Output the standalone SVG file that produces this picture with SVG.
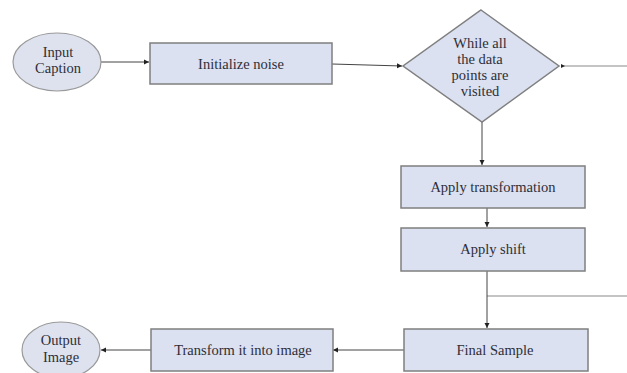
<svg xmlns="http://www.w3.org/2000/svg" width="627" height="373" viewBox="0 0 627 373">
<style>
.box{fill:#dbe1f1;stroke:#7f7f7f;stroke-width:1.5}
.ell{fill:#dde2ee;stroke:#9a9a9a;stroke-width:1.2}
.t{font-family:"Liberation Serif",serif;font-size:14.5px;fill:#2e2e38;text-anchor:middle}
.c{fill:none;stroke:#444;stroke-width:1}
.g{fill:none;stroke:#c4c4c4;stroke-width:2}
</style>
<defs>
<marker id="ah" markerWidth="6" markerHeight="6" refX="5" refY="3" orient="auto" markerUnits="userSpaceOnUse">
<path d="M0,0.5 L5,3 L0,5.5 Z" fill="#222"/>
</marker>
</defs>
<g id="connectors">
<line class="g" x1="563" y1="66" x2="627" y2="66"/>
<line class="g" x1="487" y1="296" x2="627" y2="296"/>
<line class="c" x1="101" y1="62" x2="149" y2="62" marker-end="url(#ah)"/>
<line class="c" x1="332" y1="64" x2="402" y2="66" marker-end="url(#ah)"/>
<path d="M565,66 L561,64 L561,68 Z" fill="#222"/>
<line class="c" x1="482" y1="122" x2="482" y2="165" marker-end="url(#ah)"/>
<line class="c" x1="487" y1="208" x2="487" y2="227" marker-end="url(#ah)"/>
<line class="c" x1="487" y1="271" x2="487" y2="328" marker-end="url(#ah)"/>
<line class="c" x1="404" y1="350" x2="333" y2="350" marker-end="url(#ah)"/>
<line class="c" x1="151" y1="350" x2="101" y2="350" marker-end="url(#ah)"/>
</g>
<g id="input-caption">
<ellipse class="ell" cx="57" cy="62" rx="44" ry="29"/>
<text class="t" x="58" y="57">Input</text>
<text class="t" x="58" y="73">Caption</text>
</g>
<g id="initialize-noise">
<rect class="box" x="150" y="43" width="182" height="41"/>
<text class="t" x="241" y="69">Initialize noise</text>
</g>
<g id="while-loop">
<polygon class="box" points="481,10 559,66 482,122 403,66"/>
<text class="t" x="480" y="48">While all</text>
<text class="t" x="480" y="64">the data</text>
<text class="t" x="480" y="80">points are</text>
<text class="t" x="480" y="96">visited</text>
</g>
<g id="apply-transformation">
<rect class="box" x="401" y="166" width="184" height="42"/>
<text class="t" x="493" y="192">Apply transformation</text>
</g>
<g id="apply-shift">
<rect class="box" x="401" y="228" width="184" height="43"/>
<text class="t" x="493" y="254">Apply shift</text>
</g>
<g id="final-sample">
<rect class="box" x="404" y="329" width="184" height="42"/>
<text class="t" x="495" y="355">Final Sample</text>
</g>
<g id="transform-image">
<rect class="box" x="151" y="329" width="182" height="42"/>
<text class="t" x="243" y="355">Transform it into image</text>
</g>
<g id="output-image">
<ellipse class="ell" cx="61" cy="350" rx="39" ry="28"/>
<text class="t" x="61" y="345">Output</text>
<text class="t" x="61" y="362">Image</text>
</g>
</svg>
